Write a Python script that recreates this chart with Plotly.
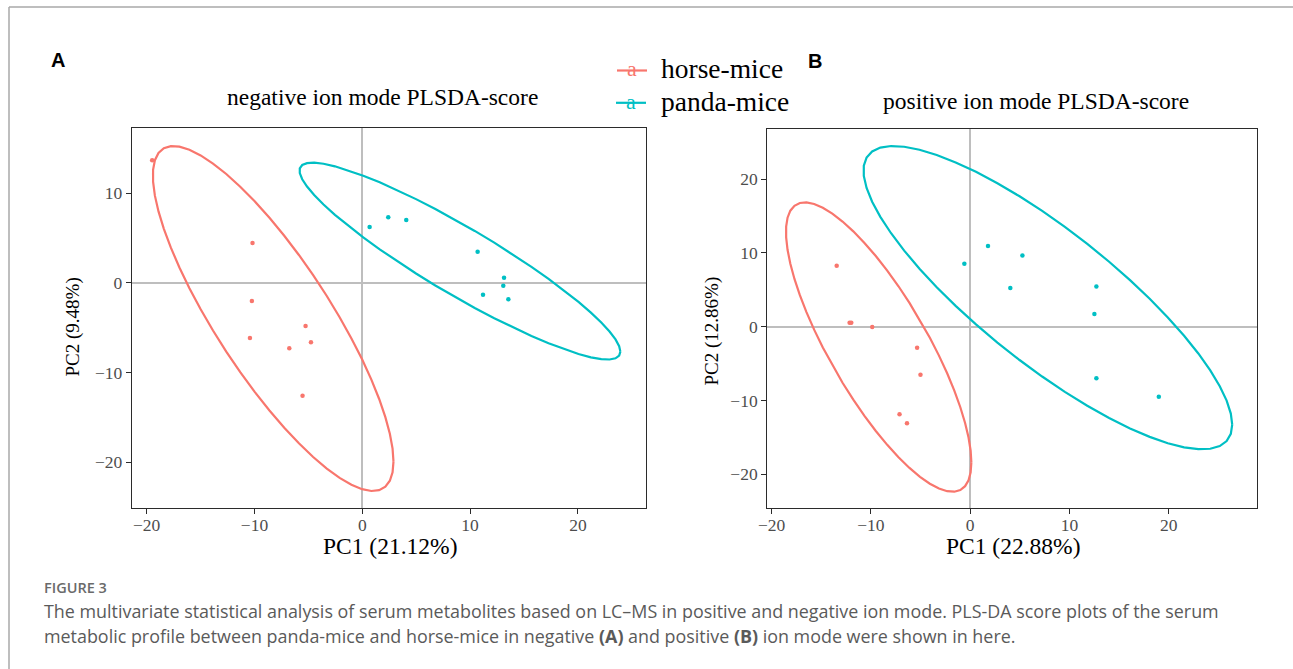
import numpy as np
import plotly.graph_objects as go

# ---------------- data ----------------
groups = ["horse-mice", "panda-mice"]
colors = ["#F8766D", "#00BFC4"]

# Panel A: negative ion mode
neg_horse_pc1 = [-19.49, -10.18, -10.24, -5.26, -10.42, -4.76, -6.77, -5.54]
neg_horse_pc2 = [13.68, 4.46, -2.01, -4.80, -6.13, -6.62, -7.29, -12.57]
neg_panda_pc1 = [0.68, 2.41, 4.08, 10.70, 13.15, 13.08, 11.20, 13.55]
neg_panda_pc2 = [6.25, 7.32, 7.03, 3.49, 0.59, -0.30, -1.30, -1.82]

# Panel B: positive ion mode
pos_horse_pc1 = [-13.44, -12.14, -11.97, -9.86, -5.34, -5.00, -7.11, -6.36]
pos_horse_pc2 = [8.26, 0.54, 0.54, -0.05, -2.84, -6.50, -11.87, -13.09]
pos_panda_pc1 = [-0.58, 1.80, 5.27, 4.05, 12.72, 12.52, 12.72, 19.01]
pos_panda_pc2 = [8.53, 10.93, 9.66, 5.24, 5.46, 1.72, -7.00, -9.48]

titles = ["negative ion mode PLSDA-score", "positive ion mode PLSDA-score"]
x_titles = ["PC1 (21.12%)", "PC1 (22.88%)"]
y_titles = ["PC2 (9.48%)", "PC2 (12.86%)"]
panel_letters = ["A", "B"]

x_ticks = [-20, -10, 0, 10, 20]
y_ticks_a = [-20, -10, 0, 10]
y_ticks_b = [-20, -10, 0, 10, 20]

caption_head = "FIGURE 3"
caption_1 = ("The multivariate statistical analysis of serum metabolites based on LC\u2013MS in positive "
             "and negative ion mode. PLS-DA score plots of the serum")
caption_2 = ("metabolic profile between panda-mice and horse-mice in negative <b>(A)</b> and positive "
             "<b>(B)</b> ion mode were shown in here.")

LEVEL = 0.95


# ------------- ellipse like ggplot2::stat_ellipse(type="t") -------------
def cov_trob(X, nu=5, maxit=25, tol=1e-4):
    n, p = X.shape
    loc = X.mean(axis=0)
    w = np.ones(n)
    Xc = X - loc
    for _ in range(maxit):
        w0 = w
        Xc = X - loc
        A = np.sqrt(w / w.sum())[:, None] * Xc
        _, s, vt = np.linalg.svd(A, full_matrices=False)
        wX = Xc @ vt.T @ np.diag(1.0 / s)
        Q = (wX ** 2).sum(axis=1)
        w = (nu + p) / (nu + Q)
        loc = (w[:, None] * X).sum(axis=0) / w.sum()
        if np.all(np.abs(w - w0) < tol):
            break
    sw = np.sqrt(w)[:, None] * Xc
    cov = sw.T @ sw / n
    return cov, loc


def ellipse(xs, ys, level=LEVEL, segments=51):
    X = np.column_stack([xs, ys]).astype(float)
    n = X.shape[0]
    dfd = n - 1
    qf = (dfd / 2.0) * ((1 - level) ** (-2.0 / dfd) - 1.0)  # F(2, dfd) quantile
    radius = np.sqrt(2 * qf)
    cov, center = cov_trob(X)
    R = np.linalg.cholesky(cov).T
    ang = np.arange(segments + 1) * 2 * np.pi / segments
    circ = np.column_stack([np.cos(ang), np.sin(ang)])
    pts = center + radius * (circ @ R)
    return pts[:, 0], pts[:, 1]


# ---------------- figure ----------------
W, H = 1293, 669


def px(x):
    return x / W


def py(y):
    return 1 - y / H


fig = go.Figure()

panels = [
    ("x", "y", [(neg_horse_pc1, neg_horse_pc2), (neg_panda_pc1, neg_panda_pc2)]),
    ("x2", "y2", [(pos_horse_pc1, pos_horse_pc2), (pos_panda_pc1, pos_panda_pc2)]),
]

for xa, ya, data in panels:
    for gi, (xs, ys) in enumerate(data):
        ex, ey = ellipse(xs, ys)
        fig.add_trace(go.Scatter(x=ex, y=ey, mode="lines", xaxis=xa, yaxis=ya,
                                 line=dict(color=colors[gi], width=2.2),
                                 showlegend=False, hoverinfo="skip"))
        fig.add_trace(go.Scatter(x=xs, y=ys, mode="markers", xaxis=xa, yaxis=ya,
                                 marker=dict(color=colors[gi], size=4.5, line=dict(width=0)),
                                 name=groups[gi], showlegend=False))

serif = "Liberation Serif, Times New Roman, serif"
axis_common = dict(
    showgrid=False, showline=True, mirror=True, linecolor="#2b2b2b", linewidth=1.4,
    ticks="outside", ticklen=5, tickwidth=1.3, tickcolor="#2b2b2b",
    tickfont=dict(family=serif, size=17.5, color="#4D4D4D"),
    zeroline=True, zerolinecolor="#BEBEBE", zerolinewidth=2, automargin=False,
)
xaxis_extra = dict(ticklabelstandoff=-4)

fig.update_layout(
    width=W, height=H, autosize=False,
    margin=dict(l=0, r=0, t=0, b=0, pad=0, autoexpand=False),
    paper_bgcolor="white", plot_bgcolor="white",
    showlegend=False,
    xaxis=dict(domain=[px(132), px(645.7)], range=[-21.36, 26.29], anchor="y",
               tickvals=x_ticks, **axis_common, **xaxis_extra),
    yaxis=dict(domain=[py(508), py(128)], range=[-25.1, 17.29], anchor="x",
               tickvals=y_ticks_a, **axis_common),
    xaxis2=dict(domain=[px(767.4), px(1257)], range=[-20.42, 28.9], anchor="y2",
                tickvals=x_ticks, **axis_common, **xaxis_extra),
    yaxis2=dict(domain=[py(508), py(129)], range=[-24.56, 26.78], anchor="x2",
                tickvals=y_ticks_b, **axis_common),
)

ann = []


def text(x, y, s, size, color="black", family=serif, anchor="center", angle=0, weight=None):
    f = dict(family=family, size=size, color=color)
    if weight:
        f["weight"] = weight
    ann.append(dict(x=px(x), y=py(y), xref="paper", yref="paper", text=s, showarrow=False,
                    xanchor=anchor, yanchor="middle", textangle=angle, font=f, borderpad=0))


# titles
text(382.5, 97, titles[0], 23.5)
text(1035.5, 101, titles[1], 23.5)
# axis titles
text(390, 546, x_titles[0], 23.5)
text(1013, 546, x_titles[1], 23.5)
text(72.5, 327, y_titles[0], 19, angle=-90)
text(711, 331.5, y_titles[1], 19, angle=-90)
# panel letters
sans = "Liberation Sans, Arial, sans-serif"
text(58, 60, "<b>%s</b>" % panel_letters[0], 20, family=sans)
text(815, 61, "<b>%s</b>" % panel_letters[1], 20, family=sans)

# legend (manual, ggplot-like keys)
shapes = []
leg_rows = [(70.5, 617), (102.8, 616)]
for gi, (ly, lx) in enumerate(leg_rows):
    shapes.append(dict(type="line", xref="paper", yref="paper",
                       x0=px(lx), x1=px(lx + 30), y0=py(ly), y1=py(ly),
                       line=dict(color=colors[gi], width=2.2)))
    text(lx + 15, ly - 1.5, "a", 22, color=colors[gi])
    text(660, ly - 1.5, groups[gi], 27.5, anchor="left")

# caption
ofont = "Open Sans, Noto Sans, sans-serif"
text(43, 587, caption_head, 14.5, color="#6a6a6a", family=ofont, anchor="left", weight=600)
text(43, 611, caption_1, 17.9, color="#5a5a5a", family=ofont, anchor="left")
text(43, 636, caption_2, 17.9, color="#5a5a5a", family=ofont, anchor="left")

# page frame (top & left)
shapes.append(dict(type="line", xref="paper", yref="paper", x0=px(9), x1=1.0, y0=py(7), y1=py(7),
                   line=dict(color="#a8a8a8", width=1.5)))
shapes.append(dict(type="line", xref="paper", yref="paper", x0=px(9), x1=px(9), y0=py(7), y1=0,
                   line=dict(color="#a8a8a8", width=1.5)))

fig.update_layout(annotations=ann, shapes=shapes)

fig.write_html("out.html", config={"displayModeBar": False},
               post_script="document.body.style.margin='0';")
